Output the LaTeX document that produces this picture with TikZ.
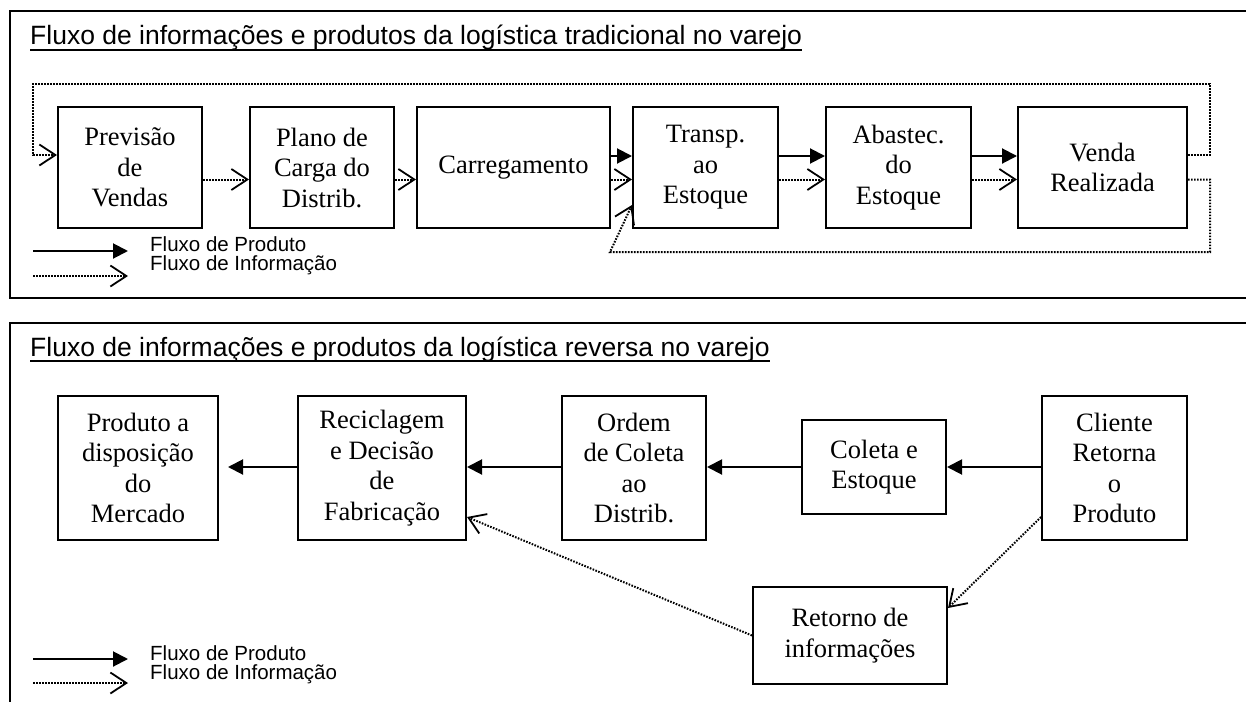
\documentclass[tikz,border=0pt]{standalone}
\usepackage{fontspec}
\setmainfont{Liberation Serif}
\newfontfamily\arialf{Liberation Sans}
\usetikzlibrary{arrows.meta}
\begin{document}
\begin{tikzpicture}[x=1pt,y=-1pt,
  panel/.style={draw, line width=2pt},
  box/.style={draw, line width=2pt, inner sep=0pt, align=center,
    font=\fontsize{26.5}{30.5}\selectfont},
  ttl/.style={anchor=base west, inner sep=0pt, font=\arialf\fontsize{26.5}{30}\selectfont},
  uline/.style={line width=1.8pt},
  leg/.style={anchor=base west, inner sep=0pt, font=\arialf\fontsize{20.5}{22}\selectfont},
  prod/.style={line width=2pt, -{Triangle[length=15pt,width=15pt]}},
  info/.style={line width=2pt, dash pattern=on 1.6pt off 1.4pt,
    -{Straight Barb[length=16pt,width=21pt,line width=1.8pt]}}
]
\useasboundingbox (0,0) rectangle (1246,701);
\clip (0,0) rectangle (1246,701);

% ---------- panels ----------
\draw[panel] (10,11) rectangle (1262,298);
\draw[panel] (10,323) rectangle (1262,720);

% ---------- top panel ----------
\node[ttl] (t1) at (30,45) {Fluxo de informações e produtos da logística tradicional no varejo};
\draw[uline] ([yshift=-5pt]t1.base west) -- ([yshift=-5pt]t1.base east);

\node[box, minimum width=144, minimum height=121] (prev)   at (130,167.5)   {Previsão\\de\\Vendas};
\node[box, minimum width=144, minimum height=121] (plano)  at (322,167.5)   {Plano de\\Carga do\\Distrib.};
\node[box, minimum width=193, minimum height=121] (carr)   at (513.5,167.5) {Carregamento};
\node[box, minimum width=145, minimum height=121] (transp) at (705.5,167.5) {Transp.\\ao\\Estoque};
\node[box, minimum width=145, minimum height=121] (abast)  at (898.5,167.5) {Abastec.\\do\\Estoque};
\node[box, minimum width=169, minimum height=121] (venda)  at (1102.5,167.5) {Venda\\Realizada};

\coordinate (yP) at (0,156);
\coordinate (yI) at (0,179.5);
\coordinate (yL) at (0,155);
\coordinate (yF) at (0,205);

\draw[prod] (carr.east |- yP) -- (transp.west |- yP);
\draw[prod] (transp.east |- yP) -- (abast.west |- yP);
\draw[prod] (abast.east |- yP) -- (venda.west |- yP);

\draw[info] (prev.east |- yI) -- (plano.west |- yI);
\draw[info] (plano.east |- yI) -- (carr.west |- yI);
\draw[info] (carr.east |- yI) -- (transp.west |- yI);
\draw[info] (transp.east |- yI) -- (abast.west |- yI);
\draw[info] (abast.east |- yI) -- (venda.west |- yI);

\coordinate (loopR) at (1210,84);
\coordinate (loopL) at (33,155);
\draw[info] (venda.east |- yL) -| (loopR) -| (loopL) -- (prev.west |- yL);

\coordinate (back2R) at (1210,252);
\coordinate (back2L) at (610,252);
\draw[info] (venda.east |- yI) -| (back2R) -- (back2L) -- (transp.west |- yF);

\coordinate (lp1) at (33,251);  \coordinate (lp2) at (128,251);
\coordinate (li1) at (33,276);  \coordinate (li2) at (128,276);
\draw[prod] (lp1) -- (lp2);
\draw[info] (li1) -- (li2);
\node[leg] (lt1) at (150,251) {Fluxo de Produto};
\node[leg] (lt2) at (150,270) {Fluxo de Informação};

% ---------- bottom panel ----------
\node[ttl] (t2) at (30,356) {Fluxo de informações e produtos da logística reversa no varejo};
\draw[uline] ([yshift=-5pt]t2.base west) -- ([yshift=-5pt]t2.base east);

\node[box, minimum width=160, minimum height=144] (prod)    at (138,468)    {Produto a\\disposição\\do\\Mercado};
\node[box, minimum width=168, minimum height=144] (recic)   at (382,468)    {Reciclagem\\e Decisão\\de\\Fabricação};
\node[box, minimum width=144, minimum height=144] (ordem)   at (634,468)    {Ordem\\de Coleta\\ao\\Distrib.};
\node[box, minimum width=144, minimum height=94]  (coleta)  at (874,467)    {Coleta e\\Estoque};
\node[box, minimum width=145, minimum height=144] (cliente) at (1114.5,468) {Cliente\\Retorna\\o\\Produto};
\node[box, minimum width=194, minimum height=97]  (retorno) at (850,635.5)  {Retorno de\\informações};

\coordinate (yB) at (0,467);
\draw[prod, shorten >=9pt] (recic.west |- yB) -- (prod.east |- yB);
\draw[prod] (ordem.west |- yB) -- (recic.east |- yB);
\draw[prod] (coleta.west |- yB) -- (ordem.east |- yB);
\draw[prod] (cliente.west |- yB) -- (coleta.east |- yB);

\coordinate (yC) at (0,517);
\coordinate (yR) at (0,608);
\draw[info] (cliente.west |- yC) -- (retorno.east |- yR);
\draw[info] (retorno.west) -- (recic.east |- yC);

\coordinate (bp1) at (33,659);  \coordinate (bp2) at (128,659);
\coordinate (bi1) at (33,683);  \coordinate (bi2) at (128,683);
\draw[prod] (bp1) -- (bp2);
\draw[info] (bi1) -- (bi2);
\node[leg] (bt1) at (150,660) {Fluxo de Produto};
\node[leg] (bt2) at (150,679) {Fluxo de Informação};
\end{tikzpicture}
\end{document}
